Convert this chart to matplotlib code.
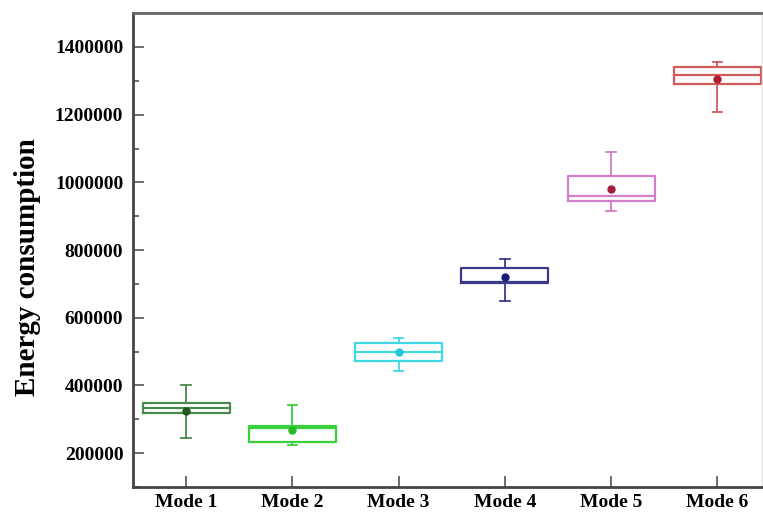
import numpy as np
from matplotlib import pyplot as plt

modes = ['Mode 1', 'Mode 2', 'Mode 3', 'Mode 4', 'Mode 5', 'Mode 6']
whis_lo = [245000, 223000, 444000, 650000, 915000, 1207000]
q1 = [319000, 233000, 471000, 702000, 944000, 1292000]
med = [334000, 274000, 500000, 707000, 959000, 1318000]
q3 = [348000, 279000, 524000, 748000, 1020000, 1341000]
whis_hi = [400000, 343000, 540000, 773000, 1091000, 1356000]
means = [326000, 268000, 500000, 720000, 981000, 1305000]

box_colors = ['#4a8a4a', '#3ccf3c', '#3fd8e4', '#3a3a8c', '#d27ec8', '#d25a5a']
dot_colors = ['#1f5a1f', '#22bb22', '#22c8d8', '#1a1a7a', '#a0203a', '#b01a2a']

plt.rcParams['font.family'] = ['Liberation Serif', 'DejaVu Serif']
plt.rcParams['font.weight'] = 'bold'

fig = plt.figure(figsize=(7.63, 5.14), dpi=100)
ax = fig.add_axes([0.1743, 0.0525, 0.8244, 0.922])

stats = []
for i in range(len(modes)):
    stats.append({'label': modes[i], 'whislo': whis_lo[i], 'q1': q1[i], 'med': med[i],
                  'q3': q3[i], 'whishi': whis_hi[i], 'mean': means[i], 'fliers': []})

pos = np.arange(1, len(modes) + 1)
bp = ax.bxp(stats, positions=pos, widths=0.82, showmeans=True, capwidths=0.09)

for i in range(len(modes)):
    c = box_colors[i]
    bp['boxes'][i].set(color=c, linewidth=1.6)
    bp['medians'][i].set(color=c, linewidth=1.6)
    for w in bp['whiskers'][2 * i:2 * i + 2]:
        w.set(color=c, linewidth=1.3)
    for cp in bp['caps'][2 * i:2 * i + 2]:
        cp.set(color=c, linewidth=1.3)
    bp['means'][i].set(marker='o', markersize=5, markerfacecolor=dot_colors[i],
                       markeredgecolor=dot_colors[i])

ax.set_xlim(0.5, 6.42)
ax.set_ylim(100000, 1500000)
ax.set_yticks(np.arange(200000, 1400001, 200000))
ax.set_yticks(np.arange(100000, 1500000, 100000), minor=True)
ax.ticklabel_format(axis='y', style='plain', useOffset=False)
ax.set_xticks(pos)
ax.set_xticklabels(modes, fontsize=14, fontweight='bold')
ax.tick_params(axis='y', labelsize=14, pad=7)
ax.tick_params(axis='x', pad=5)
ax.tick_params(direction='in', length=8, width=1.2, color='#555555')
ax.tick_params(axis='y', which='minor', direction='in', length=4, width=1.2, color='#555555')
ax.tick_params(axis='x', which='minor', length=0)
for t in ax.get_yticklabels():
    t.set_fontweight('bold')

for s in ['left', 'bottom', 'top']:
    ax.spines[s].set_linewidth(2)
    ax.spines[s].set_color('#444444')
ax.spines['top'].set_color('#666666')
ax.spines['right'].set_linewidth(1)
ax.spines['right'].set_color('#e4e4e4')

ax.set_ylabel('Energy consumption', fontsize=21, fontweight='bold')
ax.yaxis.set_label_coords(-0.146, 0.464)

fig.savefig('out.png', dpi=100)
